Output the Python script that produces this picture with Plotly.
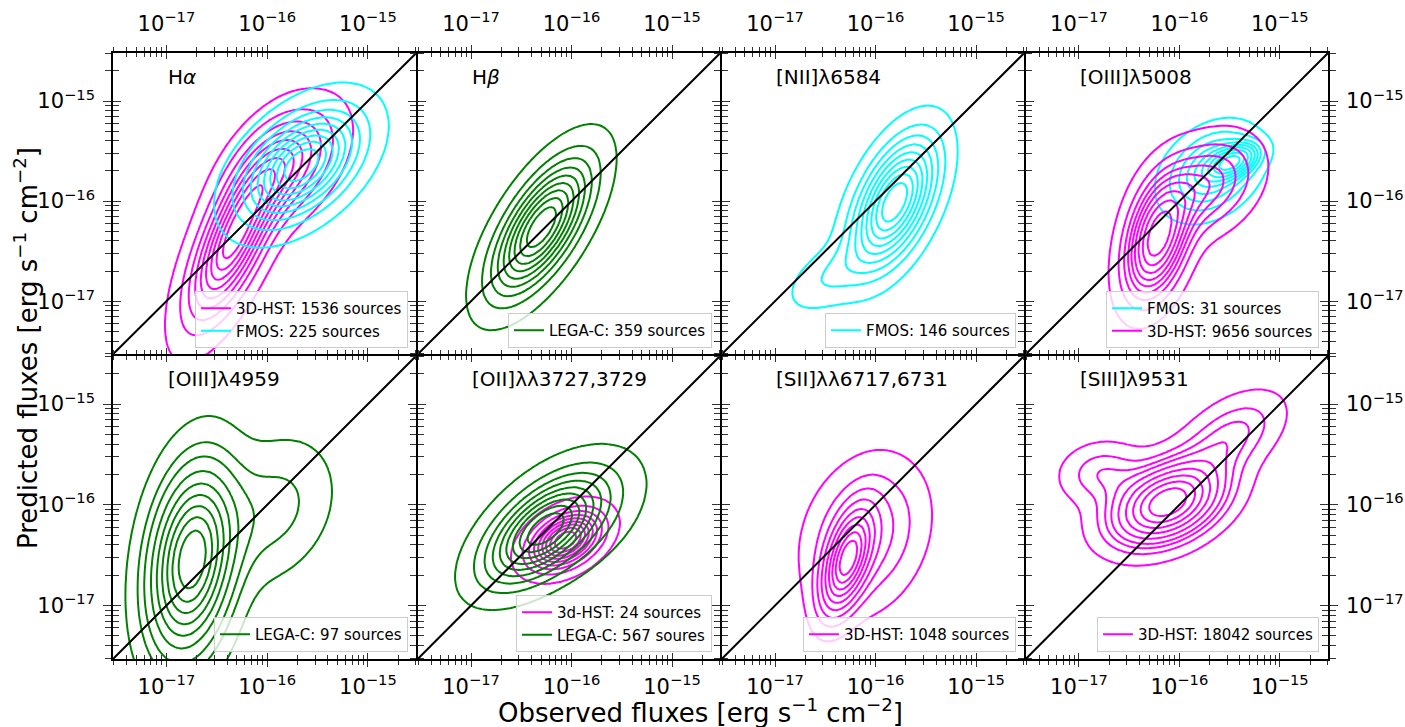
import numpy as np
import plotly.graph_objects as go

# ---------------- data (log10 flux units) ----------------
# Each KDE is described by Gaussian components: centre x/y (log10 flux),
# sigma along major / minor axis (dex), major-axis angle (deg), weight.
ha_3dhst_x = [-16.35, -15.85]
ha_3dhst_y = [-16.42, -15.65]
ha_3dhst_sa = [0.55, 0.42]
ha_3dhst_sb = [0.19, 0.25]
ha_3dhst_ang = [66, 50]
ha_3dhst_w = [0.62, 0.38]

ha_fmos_x = [-15.66]
ha_fmos_y = [-15.64]
ha_fmos_sa = [0.42]
ha_fmos_sb = [0.25]
ha_fmos_ang = [42]
ha_fmos_w = [1.0]

hb_legac_x = [-16.30]
hb_legac_y = [-16.26]
hb_legac_sa = [0.48]
hb_legac_sb = [0.20]
hb_legac_ang = [58]
hb_legac_w = [1.0]

nii_fmos_x = [-15.81, -16.45]
nii_fmos_y = [-16.01, -16.75]
nii_fmos_sa = [0.42, 0.30]
nii_fmos_sb = [0.20, 0.16]
nii_fmos_ang = [65, 35]
nii_fmos_w = [0.93, 0.07]

o3r_fmos_x = [-15.48, -15.68]
o3r_fmos_y = [-15.61, -15.70]
o3r_fmos_sa = [0.15, 0.28]
o3r_fmos_sb = [0.08, 0.20]
o3r_fmos_ang = [25, 40]
o3r_fmos_w = [0.35, 0.65]

o3r_3dhst_x = [-16.22, -15.75]
o3r_3dhst_y = [-16.38, -15.85]
o3r_3dhst_sa = [0.38, 0.35]
o3r_3dhst_sb = [0.18, 0.25]
o3r_3dhst_ang = [75, 40]
o3r_3dhst_w = [0.65, 0.35]

o3b_legac_x = [-16.75, -15.95]
o3b_legac_y = [-16.55, -16.05]
o3b_legac_sa = [0.57, 0.45]
o3b_legac_sb = [0.25, 0.33]
o3b_legac_ang = [82, 60]
o3b_legac_w = [0.86, 0.14]

oii_3dhst_x = [-16.06]
oii_3dhst_y = [-16.35]
oii_3dhst_sa = [0.24]
oii_3dhst_sb = [0.15]
oii_3dhst_ang = [30]
oii_3dhst_w = [1.0]

oii_legac_x = [-16.30, -16.05]
oii_legac_y = [-16.27, -16.12]
oii_legac_sa = [0.42, 0.46]
oii_legac_sb = [0.21, 0.28]
oii_legac_ang = [40, 35]
oii_legac_w = [0.7, 0.3]

sii_3dhst_x = [-16.28, -16.10]
sii_3dhst_y = [-16.55, -16.30]
sii_3dhst_sa = [0.30, 0.42]
sii_3dhst_sb = [0.12, 0.30]
sii_3dhst_ang = [73, 68]
sii_3dhst_w = [0.55, 0.45]

siii_3dhst_x = [-16.12, -15.50, -16.78]
siii_3dhst_y = [-15.98, -15.33, -15.68]
siii_3dhst_sa = [0.36, 0.36, 0.25]
siii_3dhst_sb = [0.22, 0.20, 0.18]
siii_3dhst_ang = [25, 35, 10]
siii_3dhst_w = [0.76, 0.16, 0.08]

panel_titles = ["H<i>α</i>", "H<i>β</i>", "[NII]λ6584", "[OIII]λ5008",
                "[OIII]λ4959", "[OII]λλ3727,3729", "[SII]λλ6717,6731", "[SIII]λ9531"]

legend_labels = [
    ["3D-HST: 1536 sources", "FMOS: 225 sources"],
    ["LEGA-C: 359 sources"],
    ["FMOS: 146 sources"],
    ["FMOS: 31 sources", "3D-HST: 9656 sources"],
    ["LEGA-C: 97 sources"],
    ["3d-HST: 24 sources", "LEGA-C: 567 soures"],
    ["3D-HST: 1048 sources"],
    ["3D-HST: 18042 sources"],
]

major_ticks = [1e-17, 1e-16, 1e-15]
major_text = ["10<sup>−17</sup>", "10<sup>−16</sup>", "10<sup>−15</sup>"]
minor_ticks = [k * 10.0 ** d for d in range(-19, -13) for k in range(2, 10)]

axis_log_range = [-17.53, -14.52]

# ---------------- styling ----------------
MAGENTA = "#ff00ff"
CYAN = "#00ffff"
GREEN = "#008000"
FONT = "DejaVu Sans"
LW = 1.5

W, H = 1405, 727
col_left = [113, 417, 721, 1025]
col_right = [417, 721, 1025, 1328]
row_top = [53, 355]
row_bottom = [355, 659]

datasets = [
    [(ha_3dhst_x, ha_3dhst_y, ha_3dhst_sa, ha_3dhst_sb, ha_3dhst_ang, ha_3dhst_w, MAGENTA),
     (ha_fmos_x, ha_fmos_y, ha_fmos_sa, ha_fmos_sb, ha_fmos_ang, ha_fmos_w, CYAN)],
    [(hb_legac_x, hb_legac_y, hb_legac_sa, hb_legac_sb, hb_legac_ang, hb_legac_w, GREEN)],
    [(nii_fmos_x, nii_fmos_y, nii_fmos_sa, nii_fmos_sb, nii_fmos_ang, nii_fmos_w, CYAN)],
    [(o3r_fmos_x, o3r_fmos_y, o3r_fmos_sa, o3r_fmos_sb, o3r_fmos_ang, o3r_fmos_w, CYAN),
     (o3r_3dhst_x, o3r_3dhst_y, o3r_3dhst_sa, o3r_3dhst_sb, o3r_3dhst_ang, o3r_3dhst_w, MAGENTA)],
    [(o3b_legac_x, o3b_legac_y, o3b_legac_sa, o3b_legac_sb, o3b_legac_ang, o3b_legac_w, GREEN)],
    [(oii_3dhst_x, oii_3dhst_y, oii_3dhst_sa, oii_3dhst_sb, oii_3dhst_ang, oii_3dhst_w, MAGENTA),
     (oii_legac_x, oii_legac_y, oii_legac_sa, oii_legac_sb, oii_legac_ang, oii_legac_w, GREEN)],
    [(sii_3dhst_x, sii_3dhst_y, sii_3dhst_sa, sii_3dhst_sb, sii_3dhst_ang, sii_3dhst_w, MAGENTA)],
    [(siii_3dhst_x, siii_3dhst_y, siii_3dhst_sa, siii_3dhst_sb, siii_3dhst_ang, siii_3dhst_w, MAGENTA)],
]

# KDE evaluation grid (log10 space)
g = np.linspace(-19.0, -13.0, 260)
GX, GY = np.meshgrid(g, g)


def mixture_density(cx, cy, sa, sb, ang, w):
    z = np.zeros_like(GX)
    for x0, y0, a, b, t, wt in zip(cx, cy, sa, sb, ang, w):
        th = np.radians(t)
        dx, dy = GX - x0, GY - y0
        u = dx * np.cos(th) + dy * np.sin(th)
        v = -dx * np.sin(th) + dy * np.cos(th)
        z += wt / (2 * np.pi * a * b) * np.exp(-0.5 * (u ** 2 / a ** 2 + v ** 2 / b ** 2))
    return z


def iso_proportion(z):
    flat = z.ravel()
    order = np.argsort(flat)
    cum = np.cumsum(flat[order])
    cum /= cum[-1]
    out = np.empty_like(flat)
    out[order] = cum
    return out.reshape(z.shape)


fig = go.Figure()
layout = dict()

for k in range(8):
    r, c = divmod(k, 4)
    n = k + 1
    xa = "x" if n == 1 else f"x{n}"
    ya = "y" if n == 1 else f"y{n}"
    xo = f"x{n + 8}"
    yo = f"y{n + 8}"
    leg = "legend" if n == 1 else f"legend{n}"

    # shrink internal edges by half a line width so neighbouring frame lines coincide
    xl = col_left[c] + (LW / 2 if c > 0 else 0)
    xr = col_right[c] - (LW / 2 if c < 3 else 0)
    yt = row_top[r] + (LW / 2 if r > 0 else 0)
    yb = row_bottom[r] - (LW / 2 if r < 1 else 0)
    xdom = [xl / W, xr / W]
    ydom = [1 - yb / H, 1 - yt / H]

    # contours
    for ds in datasets[k]:
        cx, cy, sa, sb, ang, w, col = ds
        F = iso_proportion(mixture_density(cx, cy, sa, sb, ang, w))
        fig.add_trace(go.Contour(
            x=10 ** g, y=10 ** g, z=F,
            autocontour=False,
            contours=dict(coloring="lines", start=0.05, end=0.9, size=0.95 / 9, showlabels=False),
            colorscale=[[0, col], [1, col]], showscale=False,
            line=dict(width=2, smoothing=1),
            hoverinfo="skip", showlegend=False,
            xaxis=xa, yaxis=ya))

    # diagonal one-to-one line
    fig.add_trace(go.Scatter(x=[1e-19, 1e-13], y=[1e-19, 1e-13], mode="lines",
                             line=dict(color="black", width=2),
                             showlegend=False, hoverinfo="skip", xaxis=xa, yaxis=ya))

    # legend entries
    for lab, ds in zip(legend_labels[k], datasets[k]):
        fig.add_trace(go.Scatter(x=[None], y=[None], mode="lines",
                                 line=dict(color=ds[6], width=2), name=lab,
                                 legend=leg, xaxis=xa, yaxis=ya))

    # dummy on overlay axes
    fig.add_trace(go.Scatter(x=[None], y=[None], mode="lines", showlegend=False,
                             hoverinfo="skip", xaxis=xo, yaxis=yo))

    common = dict(type="log", range=axis_log_range, showgrid=False, zeroline=False,
                  tickmode="array", tickvals=major_ticks, ticktext=major_text,
                  tickcolor="#333333", tickwidth=1, fixedrange=True,
                  linecolor="black", linewidth=LW, mirror="ticks",
                  tickfont=dict(family=FONT, size=21, color="black"))

    xprim = dict(common, domain=xdom, anchor=ya, ticks="outside", ticklen=6, showline=True,
                 minor=dict(tickmode="array", tickvals=minor_ticks, ticks="outside",
                            ticklen=4, tickwidth=1, tickcolor="#333333"),
                 side="top" if r == 0 else "bottom", showticklabels=True,
                 ticklabelstandoff=6 if r == 0 else 2)
    yprim = dict(common, domain=ydom, anchor=xa, ticks="outside", ticklen=8, showline=True,
                 minor=dict(tickmode="array", tickvals=minor_ticks, ticks="outside",
                            ticklen=6, tickwidth=1, tickcolor="#333333"),
                 side="right" if c == 3 else "left",
                 showticklabels=(c == 0 or c == 3), ticklabelstandoff=4)
    xover = dict(common, domain=xdom, anchor=ya, overlaying=xa, ticks="inside", ticklen=6,
                 showline=False,
                 minor=dict(tickmode="array", tickvals=minor_ticks, ticks="inside",
                            ticklen=4, tickwidth=1, tickcolor="#333333"),
                 showticklabels=False)
    yover = dict(common, domain=ydom, anchor=xa, overlaying=ya, ticks="inside", ticklen=8,
                 showline=False,
                 minor=dict(tickmode="array", tickvals=minor_ticks, ticks="inside",
                            ticklen=6, tickwidth=1, tickcolor="#333333"),
                 showticklabels=False)

    layout["xaxis" if n == 1 else f"xaxis{n}"] = xprim
    layout["yaxis" if n == 1 else f"yaxis{n}"] = yprim
    layout[f"xaxis{n + 8}"] = xover
    layout[f"yaxis{n + 8}"] = yover

    layout[leg] = dict(x=(col_right[c] - 9) / W, xanchor="right",
                       y=1 - (row_bottom[r] - 7) / H, yanchor="bottom",
                       bgcolor="rgba(255,255,255,0.8)", bordercolor="#cccccc",
                       borderwidth=1, font=dict(family=FONT, size=15, color="black"),
                       tracegroupgap=0, itemwidth=30)

annotations = []
for k in range(8):
    r, c = divmod(k, 4)
    annotations.append(dict(text=panel_titles[k], xref="paper", yref="paper",
                            x=(col_left[c] + 53) / W, xanchor="left",
                            y=1 - (row_top[r] + 24) / H, yanchor="middle",
                            showarrow=False, font=dict(family=FONT, size=20, color="black")))

annotations.append(dict(text="Observed fluxes [erg s<sup>−1</sup> cm<sup>−2</sup>]",
                        xref="paper", yref="paper", x=700 / W, y=1 - 711 / H,
                        xanchor="center", yanchor="middle", showarrow=False,
                        font=dict(family=FONT, size=26, color="black")))
annotations.append(dict(text="Predicted fluxes [erg s<sup>−1</sup> cm<sup>−2</sup>]",
                        xref="paper", yref="paper", x=26 / W, y=1 - 348 / H,
                        xanchor="center", yanchor="middle", textangle=-90, showarrow=False,
                        font=dict(family=FONT, size=26, color="black")))

fig.update_layout(**layout)
fig.update_layout(width=W, height=H, margin=dict(l=0, r=0, t=0, b=0, pad=0),
                  paper_bgcolor="white", plot_bgcolor="white",
                  font=dict(family=FONT, color="black"),
                  annotations=annotations, hovermode=False)

fig.write_html("out.html", config={"displayModeBar": False},
               post_script="document.body.style.margin='0';")
